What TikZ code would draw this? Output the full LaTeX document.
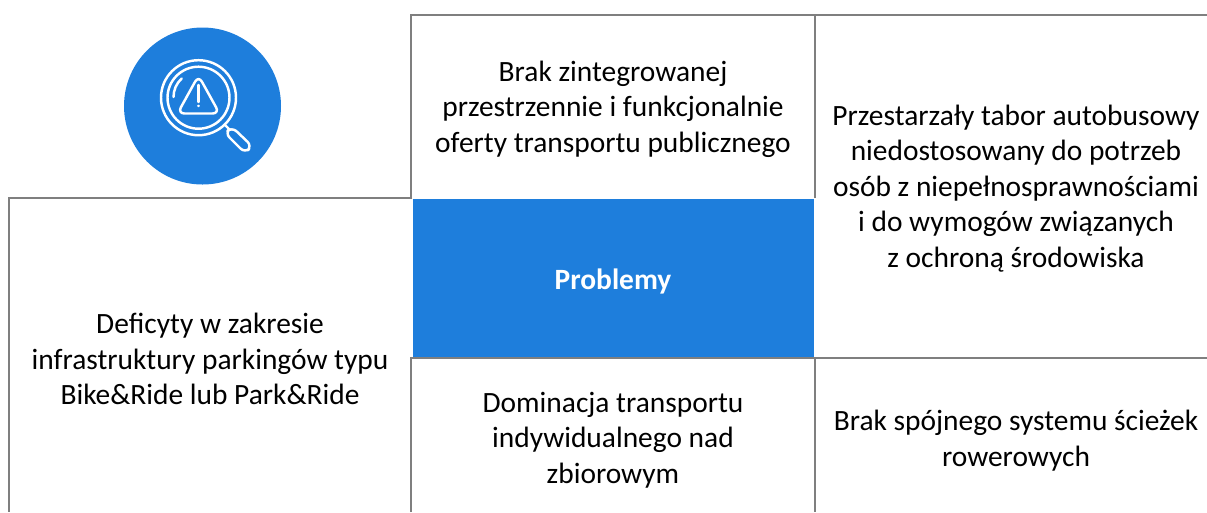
\documentclass[tikz,border=0pt]{standalone}
\usepackage{fontspec}
\setmainfont{Carlito}
\definecolor{probblue}{HTML}{1E7EDC}
\definecolor{gridgray}{HTML}{7F7F7F}
\tikzset{
  gridline/.style={draw=gridgray,line width=1.1pt},
  celltext/.style={align=center,inner sep=0pt,font=\fontsize{16.75}{20.2}\selectfont},
  iconline/.style={draw=white,line width=1.4pt,line join=round,line cap=round}
}

\begin{document}
\begin{tikzpicture}
\begin{scope}[x=0.02cm,y=-0.02cm]

\useasboundingbox (0,0) rectangle (1207,512);

\path[fill=probblue]%
(413,199) rectangle (814,357);

\path[gridline]%
(1207,15)--(411,15)--(411,198)--(9,198)--(9,512);
\path[gridline]%
(411,512)--(411,358)--(1207,358);
\path[gridline]%
(815,15)--(815,198);
\path[gridline]%
(815,358)--(815,512);

\path[fill=probblue]%
(202.5,106) circle (78.5);
\path[iconline]%
(198.5,97.7) circle (37.5);
\path[iconline]%
(198.5,97.7) circle (31);
\path[iconline]%
(173.5,97) arc (180:228:25);
\path[iconline,rounded corners=4]%
(198.5,75.5)--(219.5,113.5)--(177.5,113.5)--cycle;
\path[iconline]%
(198.5,85)--(198.5,102);
\path[iconline]%
(198.5,105.8)--(198.5,106);
\path[iconline]%
(225,125)--(230,130);
\path[iconline,rounded corners=3.5]%
(232,127)--(252,146)--(245,153)--(225,133)--cycle;

\node[celltext] (topmid) at (613,109) {Brak zintegrowanej\\przestrzennie i funkcjonalnie\\oferty transportu publicznego};
\node[celltext] (topright) at (1016,188.5) {Przestarzały tabor autobusowy\\niedostosowany do potrzeb\\osób z niepełnosprawnościami\\i do wymogów związanych\\z ochroną środowiska};
\node[celltext] (leftcell) at (210,359) {Deficyty w zakresie\\infrastruktury parkingów typu\\Bike\&Ride lub Park\&Ride};
\node[celltext,text=white,font=\fontsize{16.75}{20.2}\selectfont\bfseries] (problemy) at (613,281) {Problemy};
\node[celltext] (botmid) at (613,440) {Dominacja transportu\\indywidualnego nad\\zbiorowym};
\node[celltext] (botright) at (1016,440.5) {Brak spójnego systemu ścieżek\\rowerowych};

\end{scope}
\end{tikzpicture}
\end{document}
